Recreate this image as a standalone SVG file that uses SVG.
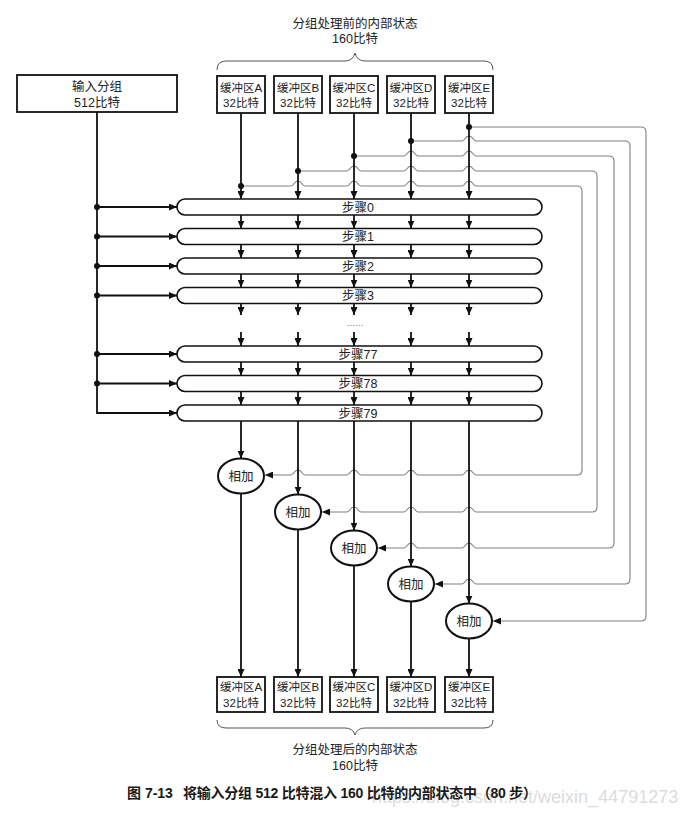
<svg xmlns="http://www.w3.org/2000/svg" width="689" height="817" viewBox="0 0 689 817">
<style>
text{font-family:"Liberation Sans","Noto Sans CJK SC",sans-serif;fill:#222;}
.lbl{font-size:12.5px;text-anchor:middle;}
.bl{font-size:11.5px;text-anchor:middle;}
.box{fill:#fff;stroke:#111;stroke-width:1.8;}
.step{fill:#fff;stroke:#111;stroke-width:1.6;}
.add{fill:#fff;stroke:#111;stroke-width:2;}
.main{fill:none;stroke:#111;stroke-width:1.8;}
.fb{fill:none;stroke:#808080;stroke-width:1.1;}
.brace{fill:none;stroke:#555;stroke-width:1;}
.dot{fill:#111;}
.cap{font-size:14px;font-weight:bold;fill:#1a1a1a;}
.wm{font-size:18px;fill:#dcdcdc;font-family:"Liberation Sans",sans-serif;}
</style>
<defs>
<marker id="ar" markerUnits="userSpaceOnUse" markerWidth="8" markerHeight="7" refX="8" refY="3.5" orient="auto">
<path d="M0,0 L8,3.5 L0,7 z" fill="#111"/>
</marker>
</defs>
<rect width="689" height="817" fill="#fff"/>

<g id="title-top">
<text class="lbl" x="355" y="28">分组处理前的内部状态</text>
<text class="lbl" x="355" y="43">160比特</text>
<path class="brace" d="M217,70 Q217,61 226,61 L345,61 Q353,61 355,53 Q357,61 365,61 L484,61 Q493,61 493,70"/>
</g>

<g id="input">
<rect class="box" x="17" y="75" width="160" height="37"/>
<text class="lbl" x="97" y="91">输入分组</text>
<text class="lbl" x="97" y="107">512比特</text>
</g>

<g id="bufA-in"><rect class="box" x="217" y="76" width="48" height="37"/><text class="bl" x="241" y="92">缓冲区A</text><text class="bl" x="241" y="107">32比特</text></g>
<g id="bufB-in"><rect class="box" x="274" y="76" width="48" height="37"/><text class="bl" x="298" y="92">缓冲区B</text><text class="bl" x="298" y="107">32比特</text></g>
<g id="bufC-in"><rect class="box" x="330" y="76" width="48" height="37"/><text class="bl" x="354" y="92">缓冲区C</text><text class="bl" x="354" y="107">32比特</text></g>
<g id="bufD-in"><rect class="box" x="387" y="76" width="48" height="37"/><text class="bl" x="411" y="92">缓冲区D</text><text class="bl" x="411" y="107">32比特</text></g>
<g id="bufE-in"><rect class="box" x="445" y="76" width="48" height="37"/><text class="bl" x="469" y="92">缓冲区E</text><text class="bl" x="469" y="107">32比特</text></g>

<g id="step0"><rect class="step" x="177" y="199" width="365" height="16" rx="8"/><text class="lbl" x="358" y="211.5">步骤0</text></g>
<g id="step1"><rect class="step" x="177" y="228.5" width="365" height="16" rx="8"/><text class="lbl" x="358" y="241">步骤1</text></g>
<g id="step2"><rect class="step" x="177" y="258" width="365" height="16" rx="8"/><text class="lbl" x="358" y="270.5">步骤2</text></g>
<g id="step3"><rect class="step" x="177" y="287.5" width="365" height="16" rx="8"/><text class="lbl" x="358" y="300">步骤3</text></g>
<g id="step77"><rect class="step" x="177" y="346" width="365" height="16" rx="8"/><text class="lbl" x="358" y="358.5">步骤77</text></g>
<g id="step78"><rect class="step" x="177" y="375.5" width="365" height="16" rx="8"/><text class="lbl" x="358" y="388">步骤78</text></g>
<g id="step79"><rect class="step" x="177" y="405" width="365" height="16" rx="8"/><text class="lbl" x="358" y="417.5">步骤79</text></g>

<text x="355" y="326" style="font-size:10px;text-anchor:middle;fill:#888;">......</text>

<g id="addA"><ellipse class="add" cx="241" cy="476" rx="23" ry="17.5"/><text class="lbl" x="241" y="480.5">相加</text></g>
<g id="addB"><ellipse class="add" cx="298" cy="512" rx="23" ry="17.5"/><text class="lbl" x="298" y="516.5">相加</text></g>
<g id="addC"><ellipse class="add" cx="354" cy="548" rx="23" ry="17.5"/><text class="lbl" x="354" y="552.5">相加</text></g>
<g id="addD"><ellipse class="add" cx="411" cy="584" rx="23" ry="17.5"/><text class="lbl" x="411" y="588.5">相加</text></g>
<g id="addE"><ellipse class="add" cx="469" cy="621" rx="23" ry="17.5"/><text class="lbl" x="469" y="625.5">相加</text></g>

<g id="bufA-out"><rect class="box" x="217" y="677" width="48" height="35"/><text class="bl" x="241" y="691">缓冲区A</text><text class="bl" x="241" y="707">32比特</text></g>
<g id="bufB-out"><rect class="box" x="274" y="677" width="48" height="35"/><text class="bl" x="298" y="691">缓冲区B</text><text class="bl" x="298" y="707">32比特</text></g>
<g id="bufC-out"><rect class="box" x="330" y="677" width="48" height="35"/><text class="bl" x="354" y="691">缓冲区C</text><text class="bl" x="354" y="707">32比特</text></g>
<g id="bufD-out"><rect class="box" x="387" y="677" width="48" height="35"/><text class="bl" x="411" y="691">缓冲区D</text><text class="bl" x="411" y="707">32比特</text></g>
<g id="bufE-out"><rect class="box" x="445" y="677" width="48" height="35"/><text class="bl" x="469" y="691">缓冲区E</text><text class="bl" x="469" y="707">32比特</text></g>

<g id="title-bottom">
<path class="brace" d="M217,720 Q217,728 226,728 L345,728 Q353,728 355,735 Q357,728 365,728 L484,728 Q493,728 493,720"/>
<text class="lbl" x="355" y="754">分组处理后的内部状态</text>
<text class="lbl" x="355" y="770">160比特</text>
</g>

<g id="connectors">
<path class="fb" marker-end="url(#ar)" d="M469,127 L641,127 Q646,127 646,132 L646,616 Q646,621 641,621 L493,621"/>
<path class="fb" marker-end="url(#ar)" d="M411,141 L462,141 C465,141 465,136 469,136 C473,136 473,141 476,141 L625,141 Q630,141 630,146 L630,579 Q630,584 625,584 L476,584 C473,584 473,579 469,579 C465,579 465,584 462,584 L435,584"/>
<path class="fb" marker-end="url(#ar)" d="M354,156 L404,156 C407,156 407,151 411,151 C415,151 415,156 418,156 L462,156 C465,156 465,151 469,151 C473,151 473,156 476,156 L609,156 Q614,156 614,161 L614,543 Q614,548 609,548 L476,548 C473,548 473,543 469,543 C465,543 465,548 462,548 L418,548 C415,548 415,543 411,543 C407,543 407,548 404,548 L378,548"/>
<path class="fb" marker-end="url(#ar)" d="M298,171 L347,171 C350,171 350,166 354,166 C358,166 358,171 361,171 L404,171 C407,171 407,166 411,166 C415,166 415,171 418,171 L462,171 C465,171 465,166 469,166 C473,166 473,171 476,171 L592,171 Q597,171 597,176 L597,507 Q597,512 592,512 L476,512 C473,512 473,507 469,507 C465,507 465,512 462,512 L418,512 C415,512 415,507 411,507 C407,507 407,512 404,512 L361,512 C358,512 358,507 354,507 C350,507 350,512 347,512 L322,512"/>
<path class="fb" marker-end="url(#ar)" d="M241,186 L291,186 C294,186 294,181 298,181 C302,181 302,186 305,186 L347,186 C350,186 350,181 354,181 C358,181 358,186 361,186 L404,186 C407,186 407,181 411,181 C415,181 415,186 418,186 L462,186 C465,186 465,181 469,181 C473,181 473,186 476,186 L577,186 Q582,186 582,191 L582,470 Q582,475 577,475 L476,475 C473,475 473,470 469,470 C465,470 465,475 462,475 L418,475 C415,475 415,470 411,470 C407,470 407,475 404,475 L361,475 C358,475 358,470 354,470 C350,470 350,475 347,475 L305,475 C302,475 302,470 298,470 C294,470 294,475 291,475 L265,475"/>

<path class="main" d="M97,112 L97,413 L177,413" marker-end="url(#ar)"/>
<path class="main" d="M97,207 L177,207" marker-end="url(#ar)"/>
<path class="main" d="M97,236.5 L177,236.5" marker-end="url(#ar)"/>
<path class="main" d="M97,266 L177,266" marker-end="url(#ar)"/>
<path class="main" d="M97,295.5 L177,295.5" marker-end="url(#ar)"/>
<path class="main" d="M97,354 L177,354" marker-end="url(#ar)"/>
<path class="main" d="M97,383.5 L177,383.5" marker-end="url(#ar)"/>
<circle class="dot" cx="97" cy="207" r="3"/>
<circle class="dot" cx="97" cy="236.5" r="3"/>
<circle class="dot" cx="97" cy="266" r="3"/>
<circle class="dot" cx="97" cy="295.5" r="3"/>
<circle class="dot" cx="97" cy="354" r="3"/>
<circle class="dot" cx="97" cy="383.5" r="3"/>

<path class="main" d="M241,113 L241,199" marker-end="url(#ar)"/>
<path class="main" d="M298,113 L298,199" marker-end="url(#ar)"/>
<path class="main" d="M354,113 L354,199" marker-end="url(#ar)"/>
<path class="main" d="M411,113 L411,199" marker-end="url(#ar)"/>
<path class="main" d="M469,113 L469,199" marker-end="url(#ar)"/>
<circle class="dot" cx="241" cy="186" r="3"/>
<circle class="dot" cx="298" cy="171" r="3"/>
<circle class="dot" cx="354" cy="156" r="3"/>
<circle class="dot" cx="411" cy="141" r="3"/>
<circle class="dot" cx="469" cy="127" r="3"/>

<g id="step-arrows">
<path class="main" marker-end="url(#ar)" d="M241,215 L241,228.5"/>
<path class="main" marker-end="url(#ar)" d="M298,215 L298,228.5"/>
<path class="main" marker-end="url(#ar)" d="M354,215 L354,228.5"/>
<path class="main" marker-end="url(#ar)" d="M411,215 L411,228.5"/>
<path class="main" marker-end="url(#ar)" d="M469,215 L469,228.5"/>
<path class="main" marker-end="url(#ar)" d="M241,244.5 L241,258"/>
<path class="main" marker-end="url(#ar)" d="M298,244.5 L298,258"/>
<path class="main" marker-end="url(#ar)" d="M354,244.5 L354,258"/>
<path class="main" marker-end="url(#ar)" d="M411,244.5 L411,258"/>
<path class="main" marker-end="url(#ar)" d="M469,244.5 L469,258"/>
<path class="main" marker-end="url(#ar)" d="M241,274 L241,287.5"/>
<path class="main" marker-end="url(#ar)" d="M298,274 L298,287.5"/>
<path class="main" marker-end="url(#ar)" d="M354,274 L354,287.5"/>
<path class="main" marker-end="url(#ar)" d="M411,274 L411,287.5"/>
<path class="main" marker-end="url(#ar)" d="M469,274 L469,287.5"/>
<path class="main" marker-end="url(#ar)" d="M241,303.5 L241,315"/>
<path class="main" marker-end="url(#ar)" d="M298,303.5 L298,315"/>
<path class="main" marker-end="url(#ar)" d="M354,303.5 L354,315"/>
<path class="main" marker-end="url(#ar)" d="M411,303.5 L411,315"/>
<path class="main" marker-end="url(#ar)" d="M469,303.5 L469,315"/>
<path class="main" marker-end="url(#ar)" d="M241,332 L241,346"/>
<path class="main" marker-end="url(#ar)" d="M298,332 L298,346"/>
<path class="main" marker-end="url(#ar)" d="M354,332 L354,346"/>
<path class="main" marker-end="url(#ar)" d="M411,332 L411,346"/>
<path class="main" marker-end="url(#ar)" d="M469,332 L469,346"/>
<path class="main" marker-end="url(#ar)" d="M241,362 L241,375.5"/>
<path class="main" marker-end="url(#ar)" d="M298,362 L298,375.5"/>
<path class="main" marker-end="url(#ar)" d="M354,362 L354,375.5"/>
<path class="main" marker-end="url(#ar)" d="M411,362 L411,375.5"/>
<path class="main" marker-end="url(#ar)" d="M469,362 L469,375.5"/>
<path class="main" marker-end="url(#ar)" d="M241,391.5 L241,405"/>
<path class="main" marker-end="url(#ar)" d="M298,391.5 L298,405"/>
<path class="main" marker-end="url(#ar)" d="M354,391.5 L354,405"/>
<path class="main" marker-end="url(#ar)" d="M411,391.5 L411,405"/>
<path class="main" marker-end="url(#ar)" d="M469,391.5 L469,405"/>
</g>

<path class="main" marker-end="url(#ar)" d="M241,421 L241,458.5"/>
<path class="main" marker-end="url(#ar)" d="M298,421 L298,494.5"/>
<path class="main" marker-end="url(#ar)" d="M354,421 L354,530.5"/>
<path class="main" marker-end="url(#ar)" d="M411,421 L411,566.5"/>
<path class="main" marker-end="url(#ar)" d="M469,421 L469,603.5"/>

<path class="main" marker-end="url(#ar)" d="M241,493.5 L241,677"/>
<path class="main" marker-end="url(#ar)" d="M298,529.5 L298,677"/>
<path class="main" marker-end="url(#ar)" d="M354,565.5 L354,677"/>
<path class="main" marker-end="url(#ar)" d="M411,601.5 L411,677"/>
<path class="main" marker-end="url(#ar)" d="M469,638.5 L469,677"/>
</g>

<text class="wm" x="372" y="803">https://blog.csdn.net/weixin_44791273</text>
<text class="cap" x="127" y="798">图 7-13</text>
<text class="cap" x="183" y="798" textLength="354" lengthAdjust="spacing">将输入分组 512 比特混入 160 比特的内部状态中（80 步）</text>
</svg>
